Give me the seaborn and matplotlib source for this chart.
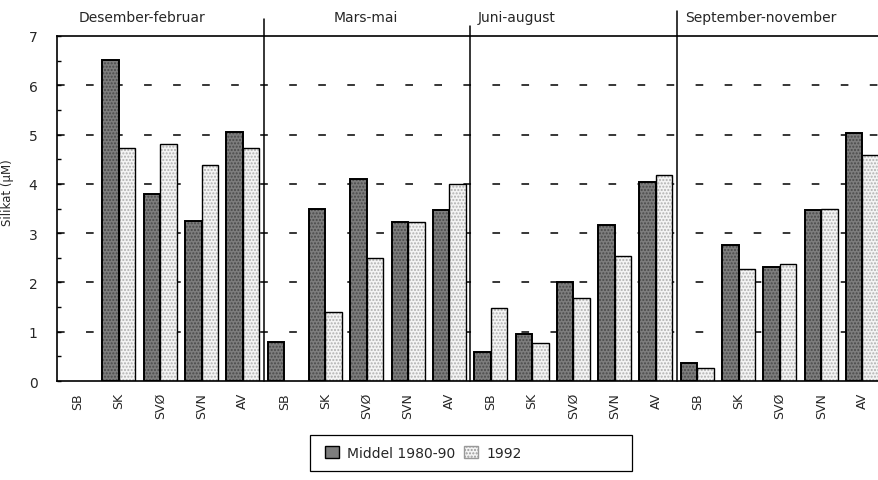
import numpy as np
import pandas as pd
import matplotlib
matplotlib.use('Agg')
import matplotlib.pyplot as plt
from matplotlib.patches import Rectangle, Patch
from matplotlib.ticker import MultipleLocator
import seaborn as sns

# Data
seasons = ['Desember-februar', 'Mars-mai', 'Juni-august', 'September-november']
stations = ['SB', 'SK', 'SVØ', 'SVN', 'AV']
series = ['Middel 1980-90', '1992']

middel = [np.nan, 6.52, 3.79, 3.25, 5.06,
          0.79, 3.50, 4.10, 3.23, 3.47,
          0.58, 0.95, 2.01, 3.17, 4.04,
          0.37, 2.75, 2.32, 3.47, 5.04]
aar1992 = [np.nan, 4.72, 4.81, 4.39, 4.72,
           np.nan, 1.39, 2.49, 3.23, 3.99,
           1.48, 0.77, 1.68, 2.54, 4.18,
           0.27, 2.27, 2.38, 3.50, 4.58]

n = len(seasons) * len(stations)
slot = list(range(n))
labels = stations * len(seasons)

df = pd.DataFrame({
    'slot': slot * 2,
    'value': middel + aar1992,
    'serie': [series[0]] * n + [series[1]] * n,
})

sns.set_style('white')
plt.rcParams['font.family'] = ['DejaVu Sans']

fig = plt.figure(figsize=(8.79, 4.81), dpi=100)
ax = fig.add_axes([57 / 879, 1 - 382 / 481, 1 - 57 / 879, (382 - 37) / 481])

sns.barplot(data=df.dropna(), x='slot', y='value', hue='serie', order=slot,
            hue_order=series, palette=['#7d7d7d', '#f4f4f4'], width=0.8,
            legend=False, ax=ax, zorder=2)

# stippled fill + black outline on each bar
hatch_col = {0: '#4a4a4a', 1: '#b0b0b0'}
for i, cont in enumerate(ax.containers):
    for p in cont:
        p.set_hatch('.....')
        p.set_edgecolor(hatch_col[i])
        p.set_linewidth(0)
        ax.add_patch(Rectangle(p.get_xy(), p.get_width(), p.get_height(),
                               fill=False, ec='black', lw=1.4 if i == 0 else 1.0,
                               zorder=3))

ax.set_xlim(-0.5, 19.4)
ax.set_ylim(0, 7)

# station labels in the middle of each slot, ticks on the slot borders
ax.set_xticks(slot)
ax.set_xticklabels(labels, rotation=90, fontsize=9)
ax.tick_params(axis='x', which='major', length=0, pad=8)
ax.set_xticks(np.arange(0.5, n - 1, 1.0), minor=True)
ax.tick_params(axis='x', which='minor', direction='inout', length=7, width=1, color='black')

ax.yaxis.set_major_locator(MultipleLocator(1))
ax.yaxis.set_minor_locator(MultipleLocator(0.5))
ax.tick_params(axis='y', which='both', direction='in', length=3, width=1,
               color='black', labelsize=10, pad=14, left=True)

ax.set_xlabel('')
ax.set_ylabel('Silikat (µM)', fontsize=8.5)
ax.yaxis.set_label_coords(-0.052, 0.55)

ax.grid(False)
for yv in range(1, 7):
    ax.axhline(yv, color='black', lw=1.1, ls=(0, (5, 14)), zorder=1)

for side in ['left', 'bottom', 'top']:
    ax.spines[side].set_visible(True)
    ax.spines[side].set_color('black')
    ax.spines[side].set_linewidth(1.2)
ax.spines['right'].set_visible(False)

# season separators reaching above the frame
for xb, top in zip([4.5, 9.5, 14.5], [1.049, 1.03, 1.072]):
    ax.axvline(xb, ymin=0, ymax=top, color='black', lw=1.1, clip_on=False, zorder=4)

fig.text(142 / 879, 1 - 18 / 481, seasons[0], ha='center', va='center', fontsize=10)
fig.text(366 / 879, 1 - 18 / 481, seasons[1], ha='center', va='center', fontsize=10)
fig.text(478 / 879, 1 - 18 / 481, seasons[2], ha='left', va='center', fontsize=10)
fig.text(685 / 879, 1 - 18 / 481, seasons[3], ha='left', va='center', fontsize=10)

# legend box
fig.patches.append(Rectangle((310 / 879, 1 - 472 / 481), 322 / 879, 36 / 481,
                             transform=fig.transFigure, fill=False, ec='black', lw=0.9))
handles = [Patch(facecolor='#7d7d7d', edgecolor='black', lw=1.0),
           Patch(facecolor='#f4f4f4', edgecolor='#999999', hatch='.....', lw=1.0)]
fig.legend(handles, series, loc='center left', bbox_to_anchor=(318 / 879, 1 - 454 / 481),
           ncol=2, frameon=False, fontsize=10, handlelength=1.0, handleheight=1.0,
           handletextpad=0.6, columnspacing=0.6, borderpad=0)

fig.savefig('out.png', dpi=100)
